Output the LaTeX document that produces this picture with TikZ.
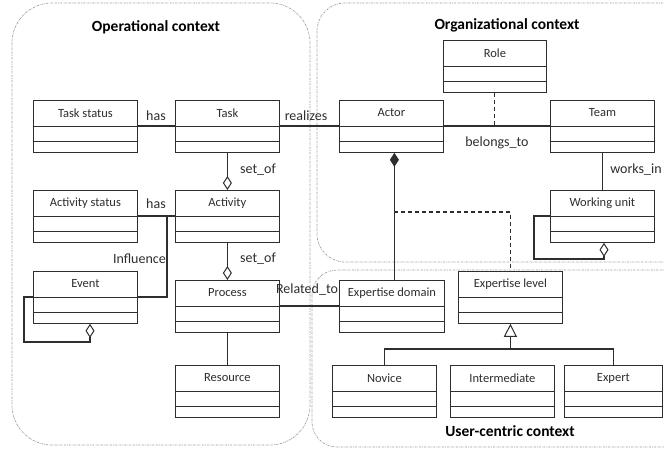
\documentclass[tikz,border=0pt]{standalone}
\usepackage{fontspec}
\setmainfont{Carlito}
\usetikzlibrary{arrows.meta}
\definecolor{ink}{HTML}{2E2E2E}
\tikzset{
  ctx/.style={draw=gray!75, line width=0.7pt, dash pattern=on 2pt off 1pt on 0.6pt off 1pt},
  clsbox/.style={draw=ink, line width=0.8pt, minimum height=52pt, inner sep=0pt, anchor=north west},
  clstext/.style={font=\fontsize{12.5}{14}\selectfont, text=ink, inner sep=0pt},
  lbl/.style={font=\fontsize{14}{16}\selectfont, text=ink, inner sep=0pt},
  ttl/.style={font=\fontsize{15.5}{18}\selectfont\bfseries, text=black, inner sep=0pt},
  conn/.style={draw=ink, line width=1.1pt},
  dconn/.style={conn, dash pattern=on 4pt off 3pt},
  agg/.style={-{Diamond[open, length=14pt, width=9pt, line width=1pt]}},
  comp/.style={{Diamond[length=14pt, width=9pt]}-},
  gen/.style={-{Triangle[open, length=13pt, width=13pt, line width=1pt]}}
}
\newcommand\umlcls[5]{%
  \node[clsbox, minimum width=#4pt] (#1) at (#2,#3) {};
  \draw[draw=ink, line width=0.8pt] ([yshift=-26pt]#1.north west) -- ([yshift=-26pt]#1.north east);
  \draw[draw=ink, line width=0.8pt] ([yshift=-41pt]#1.north west) -- ([yshift=-41pt]#1.north east);
  \node[clstext] (#1t) at ([yshift=-13pt]#1.north) {#5};
}
\begin{document}
\begin{tikzpicture}[x=1pt, y=-1pt]
\useasboundingbox (0,0) rectangle (664,450);
\clip (0,0) rectangle (664,450);
\fill[white] (0,0) rectangle (664,450);
% contexts
\draw[ctx, rounded corners=40pt] (12,3) rectangle (310,445);
\draw[ctx, rounded corners=28pt] (317,3) rectangle (700,262);
\draw[ctx, rounded corners=25pt] (312,270) rectangle (700,447);
\node[ttl] (t1) at (156,27) {Operational context};
\node[ttl] (t2) at (507,25) {Organizational context};
\node[ttl] (t3) at (510,431) {User-centric context};
% classes
\umlcls{taskstatus}{33}{100}{104}{Task status}
\umlcls{task}{175}{100}{104}{Task}
\umlcls{actstatus}{33}{190}{104}{Activity status}
\umlcls{activity}{175}{190}{104}{Activity}
\umlcls{event}{33}{271}{104}{Event}
\umlcls{process}{175}{280}{104}{Process}
\umlcls{resource}{175}{365}{104}{Resource}
\umlcls{role}{443}{40}{103}{Role}
\umlcls{actor}{339}{100}{104}{Actor}
\umlcls{team}{550}{100}{104}{Team}
\umlcls{wunit}{550}{190}{104}{Working unit}
\umlcls{expdomain}{339}{280}{105}{Expertise domain}
\umlcls{explevel}{458}{271}{104}{Expertise level}
\umlcls{novice}{332}{365}{104}{Novice}
\umlcls{intermediate}{450}{365}{104}{Intermediate}
\umlcls{expert}{564}{365}{98}{Expert}
% connectors
\draw[conn] ([yshift=-26pt]taskstatus.north east) -- ([yshift=-26pt]task.north west);
\node[lbl] (l1) at (156,116) {has};
\draw[conn] ([yshift=-26pt]task.north east) -- ([yshift=-26pt]actor.north west);
\node[lbl] (l2) at (306,116) {realizes};
\draw[conn] ([yshift=-26pt]actor.north east) -- ([yshift=-26pt]team.north west);
\node[lbl] (l3) at (497,143) {belongs\_to};
\coordinate (rb) at (role.south |- 0,126);
\draw[dconn] (role.south) -- (rb);
\draw[conn, agg] (task.south) -- (activity.north);
\node[lbl] (l4) at (258,170) {set\_of};
\draw[conn] ([yshift=-26pt]actstatus.north east) -- ([yshift=-26pt]activity.north west);
\node[lbl] (l5) at (156,204) {has};
\coordinate (inf1) at (167,216);
\coordinate (inf2) at (167,297);
\draw[conn] (inf1) -- (inf2) -- ([yshift=-26pt]event.north east);
\node[lbl, anchor=east] (l6) at (166,259) {Influence};
\draw[conn, agg] ([yshift=-26pt]event.north west) -- (24,297) -- (24,342) -- (90,342) -- (90,0 |- event.south);
\draw[conn, agg] (activity.south) -- (process.north);
\node[lbl] (l7) at (258,259) {set\_of};
\draw[conn] (process.south) -- (resource.north);
\draw[conn] ([yshift=-26pt]process.north east) -- ([yshift=-26pt]expdomain.north west);
\node[lbl] (l8) at (307,290) {Related\_to};
\draw[conn, comp] ([xshift=3pt]actor.south) -- ([xshift=3pt]actor.south |- expdomain.north);
\coordinate (d1) at (394,212);
\coordinate (d2) at (explevel.north |- 0,212);
\draw[dconn] (d1) -- (d2) -- (explevel.north);
\draw[conn] (team.south) -- (wunit.north);
\node[lbl] (l9) at (636,170) {works\_in};
\draw[conn, agg] ([yshift=-26pt]wunit.north west) -- (534,216) -- (534,259) -- (604,259) -- (604,0 |- wunit.south);
\coordinate (g0) at (explevel.south |- 0,349);
\draw[conn, gen] (g0) -- (explevel.south);
\draw[conn] (novice.north) -- (novice.north |- g0) -- (expert.north |- g0) -- (expert.north);
\end{tikzpicture}
\end{document}
